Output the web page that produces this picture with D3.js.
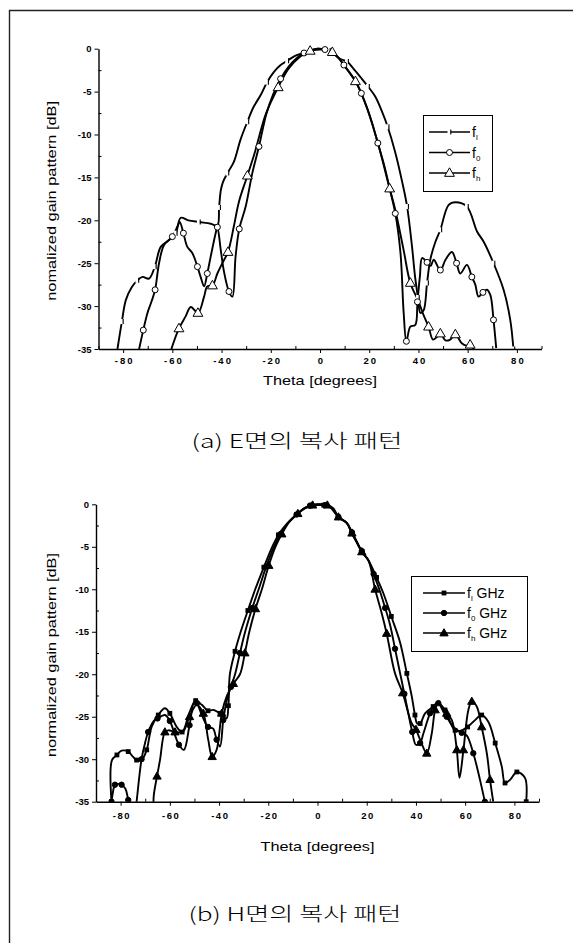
<!DOCTYPE html>
<meta charset="utf-8">
<html>
<head>
<script src="https://cdn.jsdelivr.net/npm/d3@7"></script>
<style>
  body { margin: 0; background: white; }
  svg { display: block; }
</style>
</head>
<body>
<svg id="fig" width="573" height="943"></svg>
<script>
// ---- (a) E-plane, gain [dB] vs theta [deg] ----
const eLowTheta = [-82.3, -80.5, -78.9, -76.5, -74.2, -72.1, -69.5, -67.1, -64.7, -61.3, -58.6, -56.6, -53.5, -49.2, -44.4, -41.7, -41.0, -40.3, -39.5, -37.6, -35.0, -32.3, -29.5, -27.0, -24.1, -21.5, -18.7, -16.0, -13.3, -10.5, -7.9, -5.0, -2.5, 0, 3.6, 5.6, 8.3, 11.0, 13.5, 16.4, 19.5, 22.5, 25.0, 27.5, 30.5, 33.3, 35.4, 37.4, 38.6, 39.8, 40.8, 42.1, 43.5, 44.8, 46.9, 48.9, 52.3, 55.0, 59.7, 63.8, 66.5, 70.5, 74.6, 77.3, 78.6];
const eLowGain = [-35, -31.8, -29.3, -27.8, -27.0, -26.6, -26.8, -25.4, -23.1, -22.3, -21.5, -19.7, -20.0, -20.2, -20.4, -20.6, -18.5, -16.5, -15.6, -14.5, -13.2, -10.6, -8.5, -6.8, -5.4, -3.9, -2.7, -1.9, -1.4, -0.9, -0.6, -0.3, -0.15, -0.1, -0.2, -0.6, -1.2, -1.5, -2.3, -3.3, -4.4, -5.6, -7.2, -9.1, -12.0, -15.4, -18.4, -23.1, -26.5, -29.0, -30.8, -30.5, -27.3, -24.6, -22.5, -21.1, -18.2, -17.9, -18.4, -21.3, -22.5, -25.0, -28.1, -31.6, -35];

const eMidTheta = [-73.5, -71.8, -70.1, -68.5, -67.0, -65.4, -63.4, -60.0, -57.9, -57.0, -55.5, -53.9, -51.9, -49.8, -48.5, -47.1, -45.8, -44.4, -42.4, -41.7, -40.3, -39.0, -37.0, -35.6, -34.3, -32.8, -30.2, -27.5, -24.8, -21.8, -19.0, -16.0, -12.5, -9.5, -6.5, -3.5, -1.0, 2.0, 4.5, 7.6, 9.7, 12.0, 14.4, 16.8, 19.1, 21.3, 23.5, 26.0, 28.3, 30.6, 32.7, 34.0, 35.1, 36.7, 38.7, 39.6, 40.6, 41.5, 43.5, 45.0, 46.2, 48.9, 51.0, 53.6, 55.5, 57.0, 59.7, 61.7, 63.1, 64.4, 66.2, 67.8, 69.2, 70.5, 71.6];
const eMidGain = [-35, -32.8, -30.8, -29.5, -28.1, -25.0, -22.9, -21.9, -20.7, -20.2, -21.5, -23.1, -23.8, -25.4, -26.6, -27.7, -26.2, -24.2, -21.5, -20.8, -23.5, -26.0, -28.3, -28.9, -24.2, -21.0, -18.4, -14.5, -11.4, -7.6, -5.3, -3.5, -2.0, -1.1, -0.5, -0.15, 0, -0.1, -0.4, -1.1, -1.9, -2.8, -3.8, -5.2, -6.9, -8.8, -11.0, -13.5, -16.3, -19.2, -23.8, -30.8, -34.1, -32.4, -32.2, -29.5, -26.5, -24.4, -24.9, -25.3, -24.6, -25.8, -24.6, -23.7, -25.0, -26.2, -25.2, -26.6, -27.5, -28.9, -28.4, -28.1, -28.7, -31.6, -34.9];

const eHighTheta = [-60.4, -57.3, -54.6, -52.5, -49.6, -47.1, -45.8, -43.7, -41.7, -39.7, -37.4, -35.0, -32.9, -29.5, -26.4, -22.0, -17.0, -12.7, -8.0, -4.0, -1.0, 2.0, 5.0, 7.6, 9.7, 14.4, 19.1, 23.5, 28.3, 30.6, 34.0, 36.7, 40.1, 42.0, 44.1, 45.9, 47.5, 48.9, 51.0, 52.9, 55.0, 57.5, 59.5, 61.0, 62.5];
const eHighGain = [-35, -32.6, -31.2, -30.1, -30.8, -28.9, -27.7, -27.6, -26.2, -25.0, -23.7, -20.7, -17.8, -14.8, -12.0, -7.6, -4.5, -2.3, -0.9, -0.25, 0, -0.1, -0.4, -1.1, -1.9, -3.8, -6.9, -11.0, -16.3, -18.8, -23.5, -27.3, -29.5, -31.0, -32.4, -33.9, -33.6, -33.2, -34.0, -33.9, -33.3, -34.3, -34.6, -34.5, -35];

// ---- (b) H-plane ----
const hLowTheta = [-83.7, -83.5, -81.5, -79.6, -76.9, -75.0, -73.5, -71.5, -69.4, -67.4, -64.7, -62.0, -60.0, -57.2, -55.0, -52.0, -49.5, -47.0, -44.5, -42.4, -39.6, -37.0, -36.2, -35.6, -33.5, -31.2, -28.3, -25.3, -21.8, -18.4, -15.9, -12.5, -8.5, -5.8, -3.0, 0, 2.5, 5.1, 8.5, 11.9, 13.9, 16.0, 18.0, 20.7, 24.0, 26.8, 30.0, 33.5, 36.3, 38.3, 39.6, 40.5, 41.7, 43.7, 47.0, 49.1, 51.8, 53.9, 55.9, 58.6, 61.0, 64.0, 66.7, 69.4, 72.2, 74.9, 76.2, 78.3, 81.0, 84.3, 84.8];
const hLowGain = [-35, -30.1, -29.5, -29.0, -29.1, -29.7, -30.1, -30.1, -28.9, -26.2, -24.8, -24.0, -24.6, -26.2, -26.8, -24.5, -23.1, -23.6, -24.3, -24.2, -24.6, -25.2, -23.7, -20.0, -17.3, -15.0, -12.5, -10.0, -7.4, -5.0, -3.6, -2.3, -1.2, -0.6, -0.2, -0.1, -0.1, -0.35, -1.5, -2.2, -3.4, -4.5, -5.6, -6.6, -8.6, -10.5, -13.2, -16.2, -19.9, -22.6, -24.8, -25.8, -25.8, -24.6, -23.8, -23.4, -24.2, -25.6, -26.6, -26.6, -26.2, -25.4, -24.8, -25.6, -28.1, -30.9, -32.8, -32.4, -31.5, -32.2, -35];

const hMidTheta = [-83.7, -83.2, -82.3, -81.0, -79.6, -78.0, -76.9, -75.5, -74.3, -73.5, -71.5, -70.0, -68.8, -66.5, -65.0, -62.0, -60.0, -57.5, -56.3, -54.3, -52.0, -50.0, -49.0, -47.0, -44.5, -42.4, -41.0, -39.6, -38.3, -36.8, -35.2, -33.5, -31.5, -29.4, -26.5, -23.9, -20.8, -17.7, -15.0, -12.0, -8.5, -5.5, -3.0, 0, 3.0, 5.5, 8.5, 11.9, 14.0, 16.0, 18.0, 20.7, 22.8, 25.1, 27.5, 29.5, 31.5, 33.5, 35.3, 36.9, 38.5, 40.0, 41.7, 43.0, 45.7, 47.5, 49.1, 50.8, 52.5, 55.2, 58.6, 60.6, 63.3, 66.0, 68.0];
const hMidGain = [-35, -34.0, -33.0, -32.9, -33.0, -33.5, -34.8, -36.5, -37.0, -35.0, -30.0, -28.0, -26.8, -25.5, -25.2, -24.8, -25.5, -27.5, -28.3, -28.9, -26.0, -23.2, -23.4, -24.8, -26.2, -26.4, -27.7, -28.5, -25.4, -23.0, -21.5, -20.0, -17.5, -15.0, -12.2, -10.0, -7.3, -5.0, -3.5, -2.2, -1.2, -0.5, -0.15, 0, -0.1, -0.35, -1.5, -2.2, -3.3, -4.4, -5.5, -6.6, -8.2, -10.0, -12.2, -14.2, -17.0, -19.8, -22.3, -24.6, -26.8, -28.3, -28.1, -27.0, -24.6, -23.6, -23.4, -24.2, -25.0, -26.2, -26.9, -27.2, -29.3, -32.4, -35];

const hHighTheta = [-66.7, -66.5, -65.2, -64.0, -62.0, -60.6, -57.9, -54.8, -52.0, -49.1, -46.4, -44.4, -42.8, -41.0, -38.9, -36.9, -34.2, -31.5, -29.5, -27.7, -25.2, -22.6, -19.8, -17.1, -14.5, -11.5, -8.0, -5.0, -2.0, 1.0, 4.0, 6.5, 8.5, 11.9, 14.0, 16.0, 18.0, 20.7, 23.4, 25.8, 28.1, 31.5, 34.6, 38.3, 40.0, 41.7, 44.4, 46.4, 47.8, 49.1, 52.5, 54.6, 56.6, 57.7, 59.3, 61.3, 62.7, 64.7, 66.7, 68.8, 70.1, 71.4];
const hHighGain = [-36.0, -34.2, -32.0, -30.1, -26.8, -26.6, -26.8, -26.8, -25.0, -23.6, -24.6, -27.7, -29.7, -28.9, -24.6, -22.6, -21.1, -20.0, -17.5, -15.0, -12.3, -10.0, -7.2, -5.0, -3.5, -2.1, -1.1, -0.4, -0.1, 0, -0.1, -0.5, -1.5, -2.2, -3.4, -4.5, -5.6, -6.6, -10.0, -12.5, -15.2, -19.9, -22.2, -25.8, -26.5, -27.7, -29.3, -27.0, -24.2, -23.4, -24.6, -25.4, -28.9, -32.2, -28.9, -24.2, -23.2, -23.8, -26.2, -29.3, -32.4, -35];

const xTicks = [-80, -60, -40, -20, 0, 20, 40, 60, 80];
const xMinor = [-90, -70, -50, -30, -10, 10, 30, 50, 70, 90];
const yTicks = [0, -5, -10, -15, -20, -25, -30, -35];
const yMinor = [-2.5, -7.5, -12.5, -17.5, -22.5, -27.5, -32.5];

const eLegend = ['l', '0', 'h'];
const hLegend = ['l', '0', 'h'];

const font = '"Liberation Sans", Arial, sans-serif';
const kfont = '"Noto Sans CJK KR", sans-serif';
const svg = d3.select('#fig');

// scanned page frame (left and top edge)
svg.append('path')
  .attr('d', 'M9.5,943 V10.5 H573')
  .attr('fill', 'none').attr('stroke', '#222').attr('stroke-width', 1.4);

function zip(t, g) {
  return t.map((d, i) => ({theta: d, gain: g[i]}));
}

function drawMarker(g, kind, hollow, cx, cy) {
  const fill = hollow ? 'white' : 'black';
  if (kind === 'gap') {
    // f_l in the scan: a small white break in the line closed by a short tick
    g.append('rect').attr('x', cx - 2).attr('y', cy - 2.5).attr('width', 3).attr('height', 5).attr('fill', 'white');
    g.append('line').attr('x1', cx + 1.3).attr('x2', cx + 1.3).attr('y1', cy - 2.5).attr('y2', cy + 2.5)
      .attr('stroke', 'black').attr('stroke-width', 1.1);
  } else if (kind === 'circle') {
    g.append('circle').attr('cx', cx).attr('cy', cy).attr('r', hollow ? 3 : 2.7)
      .attr('fill', fill).attr('stroke', 'black').attr('stroke-width', 1);
  } else if (kind === 'triangle') {
    g.append('path').attr('d', d3.symbol().type(d3.symbolTriangle).size(hollow ? 42 : 30)())
      .attr('transform', `translate(${cx},${cy + 0.5})`)
      .attr('fill', fill).attr('stroke', 'black').attr('stroke-width', 1);
  } else if (kind === 'square') {
    g.append('rect').attr('x', cx - 2.4).attr('y', cy - 2.4).attr('width', 4.8).attr('height', 4.8)
      .attr('fill', 'black');
  }
}

function drawPanel(cfg) {
  const x = d3.scaleLinear().domain([-90, 90]).range(cfg.xRange);
  const y = d3.scaleLinear().domain([-35, 0]).range(cfg.yRange);
  const g = svg.append('g');

  const clipId = cfg.id + '-clip';
  g.append('clipPath').attr('id', clipId).append('rect')
    .attr('x', x(-90)).attr('y', y(0) - 6)
    .attr('width', x(90) - x(-90)).attr('height', y(-35) - y(0) + 6);

  const plot = g.append('g').attr('clip-path', `url(#${clipId})`);
  const line = d3.line()
    .x(d => x(d.theta)).y(d => y(d.gain))
    .curve(d3.curveCatmullRom.alpha(0.5));

  cfg.series.forEach(s => {
    const pts = zip(s.theta, s.gain);
    plot.append('path').datum(pts)
      .attr('d', line)
      .attr('fill', 'none').attr('stroke', 'black')
      .attr('stroke-width', cfg.lineWidth).attr('stroke-linejoin', 'round');
  });
  cfg.series.forEach(s => {
    const pts = zip(s.theta, s.gain);
    pts.forEach((p, i) => {
      if (i % cfg.markEvery !== cfg.markOffset) return;
      if (p.gain < -35 || p.gain > 0) return;
      drawMarker(plot, s.marker, cfg.hollow, x(p.theta), y(p.gain));
    });
  });

  // axes
  const xAxis = g.append('g').attr('transform', `translate(0,${y(-35)})`)
    .call(d3.axisBottom(x).tickValues(xTicks).tickSizeInner(4).tickSizeOuter(0).tickPadding(3)
      .tickFormat(d => String(d)));
  g.append('g').attr('transform', `translate(0,${y(-35)})`)
    .call(d3.axisBottom(x).tickValues(xMinor).tickSizeInner(-3).tickSizeOuter(0).tickFormat(''))
    .call(a => a.select('.domain').remove());
  g.append('g').attr('transform', `translate(${x(-90)},0)`)
    .call(d3.axisLeft(y).tickValues(yTicks).tickSizeInner(4).tickSizeOuter(0).tickPadding(3)
      .tickFormat(d => String(d)));
  g.append('g').attr('transform', `translate(${x(-90)},0)`)
    .call(d3.axisLeft(y).tickValues(yMinor).tickSizeInner(-3).tickSizeOuter(0).tickFormat(''))
    .call(a => a.select('.domain').remove());

  g.selectAll('.domain').attr('stroke', 'black').attr('stroke-width', 1.4);
  g.selectAll('.tick line').attr('stroke', 'black').attr('stroke-width', 1);
  g.selectAll('.tick text').attr('fill', 'black')
    .style('font-family', font).style('font-size', '9.5px').style('font-weight', 'bold');
  xAxis.selectAll('.tick text').style('letter-spacing', cfg.xLetter + 'px')
    .attr('dx', (cfg.xLetter / 2) + 'px').attr('y', cfg.xLabelY);

  // axis titles
  g.append('text')
    .attr('x', (x(-90) + x(90)) / 2).attr('y', y(-35) + cfg.xTitleDy)
    .attr('text-anchor', 'middle')
    .attr('textLength', 114).attr('lengthAdjust', 'spacingAndGlyphs')
    .style('font-family', font).style('font-size', '13.5px')
    .text('Theta [degrees]');
  g.append('text')
    .attr('transform', `translate(${cfg.yTitleX},${(y(0) + y(-35)) / 2 + cfg.yTitleDy}) rotate(-90)`)
    .attr('text-anchor', 'middle')
    .attr('textLength', cfg.yTitleLen).attr('lengthAdjust', 'spacingAndGlyphs')
    .style('font-family', font).style('font-size', '12.5px')
    .text(cfg.yTitle);

  // legend
  const lg = g.append('g').attr('transform', `translate(${cfg.legend.x},${cfg.legend.y})`);
  lg.append('rect').attr('width', cfg.legend.w).attr('height', cfg.legend.h)
    .attr('fill', 'white').attr('stroke', 'black').attr('stroke-width', 1);
  cfg.series.forEach((s, i) => {
    const ly = cfg.legend.firstRow + i * cfg.legend.rowGap;
    lg.append('line').attr('x1', cfg.legend.lineX0).attr('x2', cfg.legend.lineX1)
      .attr('y1', ly).attr('y2', ly).attr('stroke', 'black').attr('stroke-width', 1.5);
    drawMarker(lg, s.marker, cfg.hollow, (cfg.legend.lineX0 + cfg.legend.lineX1) / 2, ly);
    const t = lg.append('text').attr('x', cfg.legend.lineX1 + 2).attr('y', ly + 5)
      .style('font-family', font).style('font-size', '14px');
    t.append('tspan').text('f');
    t.append('tspan').attr('dy', 3).style('font-size', '8px').text(cfg.legendSub[i]);
    if (cfg.legend.unit) {
      t.append('tspan').attr('dy', -3).text(' ' + cfg.legend.unit);
    }
  });

  // caption
  g.append('text')
    .attr('x', cfg.captionX).attr('y', cfg.captionY)
    .attr('text-anchor', 'middle')
    .attr('textLength', cfg.captionLen).attr('lengthAdjust', 'spacingAndGlyphs')
    .style('font-family', kfont).style('font-size', '19px').style('font-weight', 300)
    .text(cfg.caption);
}

drawPanel({
  id: 'eplane',
  xRange: [98.5, 541.5], yRange: [349, 48.7],
  lineWidth: 1.9, hollow: true, markEvery: 3, markOffset: 1,
  xLetter: 2, xLabelY: 8, xTitleDy: 36,
  yTitle: 'nomalized gain pattern [dB]', yTitleX: 56, yTitleDy: 2, yTitleLen: 200,
  series: [
    {theta: eLowTheta, gain: eLowGain, marker: 'gap'},
    {theta: eMidTheta, gain: eMidGain, marker: 'circle'},
    {theta: eHighTheta, gain: eHighGain, marker: 'triangle'}
  ],
  legendSub: eLegend,
  legend: {x: 423.5, y: 115.5, w: 69, h: 76, firstRow: 16.5, rowGap: 20.5, lineX0: 5.5, lineX1: 46.5},
  caption: '(a) E면의 복사 패턴', captionX: 297, captionY: 448, captionLen: 211
});

drawPanel({
  id: 'hplane',
  xRange: [96, 539], yRange: [801.7, 504.3],
  lineWidth: 1.9, hollow: false, markEvery: 2, markOffset: 0,
  xLetter: 1.5, xLabelY: 11, xTitleDy: 49,
  yTitle: 'normalized gain pattern [dB]', yTitleX: 56, yTitleDy: 2, yTitleLen: 204,
  series: [
    {theta: hLowTheta, gain: hLowGain, marker: 'square'},
    {theta: hMidTheta, gain: hMidGain, marker: 'circle'},
    {theta: hHighTheta, gain: hHighGain, marker: 'triangle'}
  ],
  legendSub: hLegend,
  legend: {x: 411.5, y: 576.5, w: 116, h: 75, firstRow: 16.5, rowGap: 20, lineX0: 11.5, lineX1: 53.5, unit: 'GHz'},
  caption: '(b) H면의 복사 패턴', captionX: 295, captionY: 921, captionLen: 213
});
</script>
</body>
</html>
